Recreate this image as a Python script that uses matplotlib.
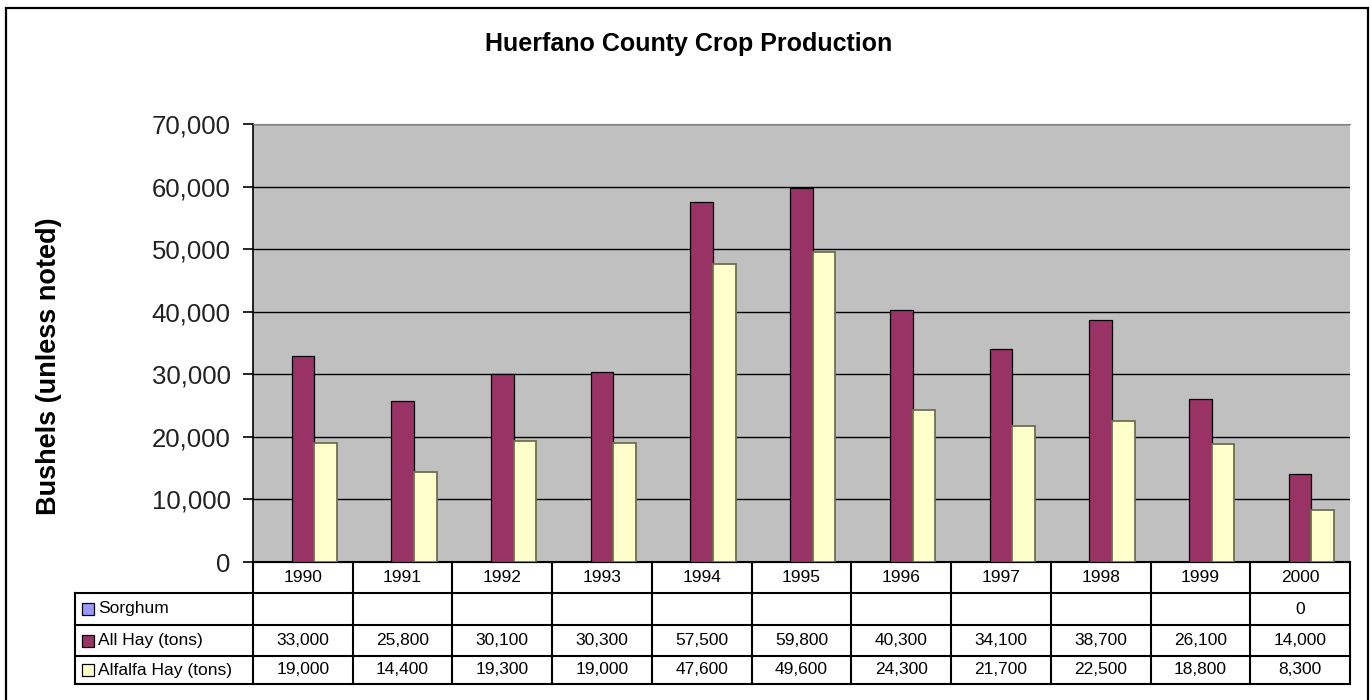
import matplotlib
matplotlib.use("Agg")
import matplotlib.pyplot as plt
import matplotlib.transforms as mtransforms
from matplotlib.patches import Rectangle
from matplotlib.lines import Line2D
import numpy as np

plt.rcParams['font.family'] = ['Liberation Sans', 'DejaVu Sans']

years = ["1990", "1991", "1992", "1993", "1994", "1995", "1996", "1997", "1998", "1999", "2000"]
sorghum = [None, None, None, None, None, None, None, None, None, None, 0]
all_hay = [33000, 25800, 30100, 30300, 57500, 59800, 40300, 34100, 38700, 26100, 14000]
alfalfa_hay = [19000, 14400, 19300, 19000, 47600, 49600, 24300, 21700, 22500, 18800, 8300]
series_names = ["Sorghum", "All Hay (tons)", "Alfalfa Hay (tons)"]
series_colors = ["#9999FF", "#993366", "#FFFFCC"]
yticks = [0, 10000, 20000, 30000, 40000, 50000, 60000, 70000]

W, H = 1371, 700
fig = plt.figure(figsize=(W / 100, H / 100), dpi=100)

def fx(px):
    return px / W

def fy(py):
    return 1 - py / H

# outer frame
fig.patches.append(Rectangle((fx(6), fy(705)), fx(1368) - fx(6), fy(8) - fy(705),
                             transform=fig.transFigure, fill=False,
                             edgecolor="black", linewidth=1.6))

left, right, top, bottom = 253, 1350, 124, 562
ax = fig.add_axes([fx(left), fy(bottom), fx(right) - fx(left), fy(top) - fy(bottom)])
ax.set_facecolor("#C0C0C0")

n = len(years)
x = np.arange(n)
bw = 0.227
sorg_vals = [v if v is not None else 0 for v in sorghum]
ax.bar(x - bw, sorg_vals, bw, color=series_colors[0], edgecolor="black", linewidth=0.8, zorder=3)
ax.bar(x, all_hay, bw, color=series_colors[1], edgecolor="black", linewidth=0.9, zorder=3)
ax.bar(x + bw, alfalfa_hay, bw, color=series_colors[2], edgecolor="#6F6F50", linewidth=1.3, zorder=3)

ax.set_xlim(-0.5, n - 0.5)
ax.set_ylim(0, 70000)
ax.set_yticks(yticks)
ax.set_yticklabels([f"{v:,}" for v in yticks], fontsize=18.5, color="#222222")
ax.yaxis.grid(True, color="black", linewidth=1.0, zorder=1)
ax.set_axisbelow(True)
ax.tick_params(axis="y", length=7, width=1.2, pad=9, direction="out")
ax.set_xticks([])
ax.spines["top"].set_color("#808080")
ax.spines["right"].set_visible(False)
ax.spines["bottom"].set_color("black")
ax.spines["left"].set_linewidth(1.2)

# Title and y label
fig.text(fx(689), fy(44), "Huerfano County Crop Production", ha="center", va="center",
         fontsize=18, fontweight="bold")
fig.text(fx(49), fy(366), "Bushels (unless noted)", ha="center", va="center",
         rotation=90, fontsize=19.5, fontweight="bold")

# Data table below the axes
trans = mtransforms.blended_transform_factory(ax.transData, ax.transAxes)
ah = bottom - top
def ay(py):
    return (bottom - py) / ah

row_y = [ay(562), ay(593), ay(625), ay(656), ay(684)]
leg_left = -0.5 + (75 - left) / ((right - left) / n)

def line(xs, ys, lw=1.5):
    ax.add_line(Line2D(xs, ys, transform=trans, color="black", linewidth=lw, clip_on=False))

# horizontal lines
line([-0.5, n - 0.5], [row_y[0], row_y[0]])
for r in range(1, 5):
    line([leg_left, n - 0.5], [row_y[r], row_y[r]])
# vertical lines
for i in range(n + 1):
    line([i - 0.5, i - 0.5], [row_y[0], row_y[4]])
line([leg_left, leg_left], [row_y[1], row_y[4]])

# year header
for i, yr in enumerate(years):
    ax.text(i, (row_y[0] + row_y[1]) / 2, yr, transform=trans, ha="center", va="center",
            fontsize=12.5, clip_on=False)

rows = [sorghum, all_hay, alfalfa_hay]
for r, vals in enumerate(rows):
    yc = (row_y[r + 1] + row_y[r + 2]) / 2
    for i, v in enumerate(vals):
        if v is None:
            continue
        ax.text(i, yc, f"{v:,}", transform=trans, ha="center", va="center",
                fontsize=12.5, clip_on=False)
    # legend key + label
    ky_pix = (top + (1 - yc) * ah)
    fig.patches.append(Rectangle((fx(82), fy(ky_pix + 6)), fx(94) - fx(82), fy(ky_pix - 6) - fy(ky_pix + 6),
                                 transform=fig.transFigure, facecolor=series_colors[r],
                                 edgecolor="black", linewidth=0.9))
    fig.text(fx(98), fy(ky_pix), series_names[r], ha="left", va="center", fontsize=12.5)

fig.savefig("out.png", dpi=100)
